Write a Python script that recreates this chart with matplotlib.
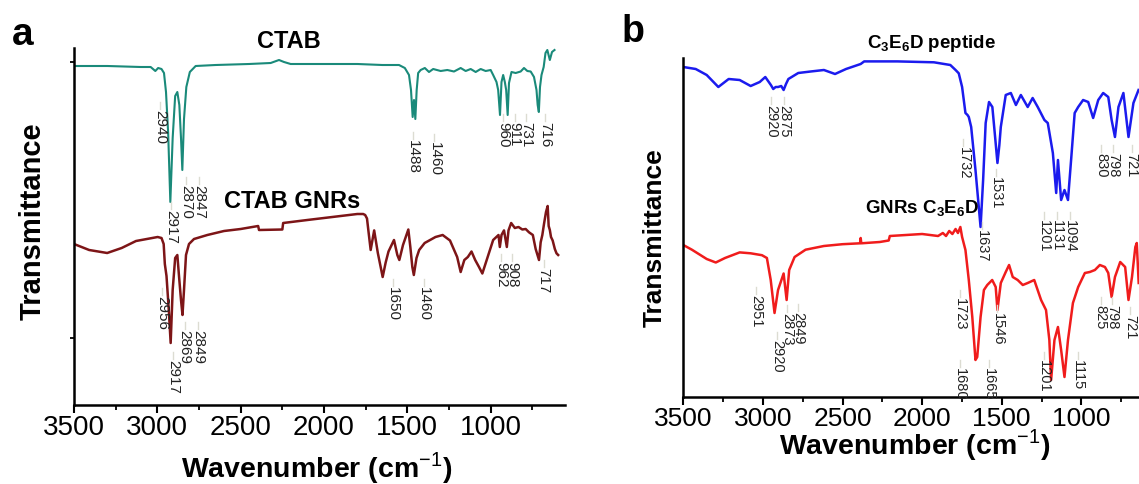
import matplotlib
matplotlib.use('Agg')
import matplotlib.pyplot as plt
from matplotlib.ticker import MultipleLocator

plt.rcParams['font.family'] = ['Liberation Sans', 'DejaVu Sans']
plt.rcParams['mathtext.fontset'] = 'custom'
plt.rcParams['mathtext.rm'] = 'Liberation Sans'
plt.rcParams['mathtext.bf'] = 'Liberation Sans:bold'

# ---------------- data (wavenumber in cm-1, transmittance in arbitrary units) ----------------
# Panel a: CTAB
ctab_wn = [3500, 3300, 3100, 3040, 3012, 2995, 2975, 2960, 2948, 2935, 2922, 2908, 2893, 2880,
           2868, 2858, 2850, 2840, 2826, 2805, 2770, 2650, 2450, 2320, 2270, 2240, 2200, 2000,
           1800, 1650, 1550, 1515, 1490, 1478, 1468, 1460, 1452, 1444, 1435, 1420, 1395, 1370,
           1345, 1300, 1260, 1220, 1180, 1150, 1120, 1090, 1060, 1030, 1000, 985, 965, 955, 944,
           935, 925, 915, 907, 898, 890, 875, 850, 820, 800, 780, 760, 740, 725, 718, 711, 704,
           695, 682, 671, 660, 645, 632, 617]
ctab_t = [384, 384, 383, 383, 379, 382, 381, 377, 358, 317, 248, 312, 354, 358,
          345, 312, 280, 331, 363, 378, 384, 385, 386, 387, 390, 388, 386, 386,
          386, 385, 385, 382, 375, 360, 333, 350, 331, 360, 377, 380, 382, 378,
          381, 379, 380, 378.5, 382, 379, 381, 378, 381, 379, 380, 375, 368, 360, 335,
          368, 375, 368, 360, 335, 367, 378, 377, 378.5, 382, 379, 378.5, 373, 360, 345, 338, 363,
          375, 383, 397, 400, 390, 398, 400]

# Panel a: CTAB GNRs
ctabgnr_wn = [3500, 3409, 3301, 3214, 3128, 3063, 2998, 2975, 2962, 2955, 2945, 2932, 2920, 2908,
              2893, 2880, 2870, 2858, 2849, 2840, 2828, 2810, 2780, 2700, 2600, 2500, 2395, 2390,
              2250, 2245, 2100, 2000, 1900, 1800, 1765, 1753, 1742, 1732, 1720, 1699, 1677, 1660,
              1648, 1630, 1613, 1580, 1560, 1548, 1526, 1494, 1482, 1470, 1461, 1445, 1429, 1396,
              1331, 1288, 1244, 1201, 1180, 1158, 1137, 1115, 1093, 1070, 1050, 1018, 985, 953,
              945, 935, 920, 903, 893, 877, 855, 833, 810, 790, 770, 747, 730, 710, 700, 690,
              680, 668, 658, 652, 645, 638, 628, 615, 605, 595]
ctabgnr_t = [206, 200, 197, 202, 209, 211, 213, 212, 206, 186, 174, 142, 107, 160,
             192, 195, 174, 150, 135, 160, 195, 206, 211, 215, 219, 221, 224, 220,
             220.5, 227, 230, 232, 234, 236, 236, 235, 231.5, 217, 200, 219.6, 197, 183,
             173, 187.5, 198.5, 210, 195, 190, 205, 220.5, 203, 183, 175, 192, 200, 207,
             213, 215, 209.5, 193, 178, 190, 193, 198.5, 190, 183, 176.5, 193, 210, 215,
             203, 215, 219.6, 203, 219.6, 227, 222, 223, 220.5, 221, 217.7, 215, 201, 190, 207.7, 215,
             226, 238, 244, 224, 220, 213, 209.5, 201, 196.7, 195]

# Panel b: C3E6D peptide
pep_wn = [3500, 3422, 3353, 3280, 3215, 3146, 3077, 3020, 2985, 2950, 2935, 2920, 2905, 2885,
          2870, 2855, 2840, 2778, 2700, 2617, 2547, 2478, 2386, 2364, 2156, 1926, 1823, 1790,
          1770, 1749, 1728, 1715, 1707, 1692, 1665, 1633, 1617, 1601, 1580, 1559, 1540, 1527,
          1515, 1506, 1475, 1443, 1411, 1380, 1337, 1306, 1274, 1232, 1211, 1179, 1158, 1147,
          1127, 1106, 1084, 1063, 1042, 1020, 989, 957, 926, 894, 863, 831, 810, 789, 767, 736,
          704, 673, 641]
pep_t = [383, 381, 375, 363, 371, 370, 364, 368, 373, 365, 361, 363, 363, 364,
         360, 366, 371, 377, 378.5, 380, 376, 381, 386, 388.6, 388.6, 387.7, 385, 380,
         376.7, 363, 337, 335, 333, 323, 280, 223, 270, 327, 348, 343, 310, 287,
         305, 323, 355, 357, 345, 355, 343, 352, 343, 330, 327, 297, 257, 290,
         250, 260, 250, 293, 337, 343, 350, 348, 332, 350, 357, 353, 330, 313, 343, 357,
         313, 347, 360]

# Panel b: GNRs C3E6D
gnrpep_wn = [3500, 3446, 3353, 3296, 3238, 3146, 3077, 3006, 2975, 2951, 2927, 2905, 2870, 2851,
             2835, 2801, 2732, 2617, 2500, 2390, 2386, 2382, 2266, 2210, 2203, 2000, 1900, 1870,
             1850, 1830, 1810, 1790, 1775, 1760, 1749, 1728, 1707, 1685, 1665, 1654, 1633, 1612,
             1591, 1560, 1538, 1527, 1506, 1475, 1454, 1431, 1400, 1368, 1337, 1296, 1253, 1222,
             1201, 1190, 1169, 1147, 1127, 1106, 1084, 1053, 1020, 978, 947, 915, 884, 852, 831,
             810, 789, 756, 725, 704, 682, 661, 652, 640]
gnrpep_t = [205, 200.3, 191, 187.5, 192, 197.6, 196.7, 194.8, 192, 170, 137, 160, 176.5, 150,
            180, 193, 200.3, 204, 205.8, 206.7, 212, 206.7, 208, 209.5, 214, 216, 214, 217,
            214, 219, 216, 221, 217, 223, 213, 200, 170, 133, 90, 93, 133, 160,
            165, 170, 163, 140, 167, 178, 185, 173, 170, 165, 167, 170, 150, 140,
            110, 70, 110, 123, 100, 73, 110, 147, 163, 177, 178, 180, 185, 183, 177,
            153, 173, 188, 183, 150, 173, 203, 207, 167]

# Peak labels: (text, wavenumber position, transmittance at label top)
ctab_peaks = [("2940", 2984, 340), ("2917", 2918, 240), ("2870", 2828, 265), ("2847", 2750, 265),
              ("1488", 1468, 310), ("1460", 1337, 308), ("960", 924, 328), ("911", 857, 328),
              ("731", 789, 328), ("716", 671, 328)]
ctabgnr_peaks = [("2956", 2972, 154), ("2917", 2904, 90), ("2869", 2836, 120), ("2849", 2754, 120),
                 ("1650", 1588, 163), ("1460", 1402, 163), ("962", 938, 188), ("908", 872, 188),
                 ("717", 682, 182)]
pep_peaks = [("2920", 2949, 345), ("2875", 2867, 345), ("1732", 1741, 303), ("1637", 1622, 220),
             ("1531", 1538, 273), ("1201", 1234, 230), ("1131", 1152, 230), ("1094", 1072, 230),
             ("830", 876, 297), ("798", 800, 297), ("721", 684, 297)]
gnrpep_peaks = [("2951", 3044, 155), ("2920", 2911, 110), ("2873", 2848, 137), ("2849", 2778, 138),
                ("1723", 1760, 152), ("1546", 1527, 137), ("1680", 1760, 82), ("1665", 1582, 82),
                ("1201", 1234, 90), ("1115", 1019, 90), ("825", 878, 145), ("798", 806, 145),
                ("721", 696, 135)]

xticks = [3500, 3000, 2500, 2000, 1500, 1000]

# ---------------- figure ----------------
W, H = 1139, 484
fig = plt.figure(figsize=(W / 100, H / 100), dpi=100)


def fpos(x, y):
    return x / W, 1 - y / H


axa = fig.add_axes([74 / W, (H - 405) / H, 491 / W, (405 - 48.3) / H])
axb = fig.add_axes([683.3 / W, (H - 396.7) / H, (W - 683.3) / W, (396.7 - 58.3) / H])

axa.set_xlim(3500, 554)
axa.set_ylim(45, 401.7)
axb.set_xlim(3500, 638)
axb.set_ylim(53.3, 391.7)

for ax, fs in ((axa, 20), (axb, 19)):
    for s in ('top', 'right'):
        ax.spines[s].set_visible(False)
    for s in ('left', 'bottom'):
        ax.spines[s].set_linewidth(1.8)
    ax.set_xticks(xticks)
    ax.set_xticklabels([str(t) for t in xticks], fontsize=fs)
    ax.xaxis.set_minor_locator(MultipleLocator(250))
    ax.tick_params(axis='x', which='major', direction='out', length=6, width=1.5, pad=1.5)
    ax.tick_params(axis='x', which='minor', direction='out', length=3.5, width=1.3)
    ax.patch.set_alpha(0)

axa.set_yticks([112, 388])
axa.set_yticklabels([])
axa.tick_params(axis='y', direction='out', length=3, width=1.3)
axb.set_yticks([])

axa.plot(ctab_wn, ctab_t, color='#1a8a7a', lw=1.5)
axa.plot(ctabgnr_wn, ctabgnr_t, color='#7d1517', lw=1.8)
axb.plot(pep_wn, pep_t, color='#1b1bee', lw=1.8)
axb.plot(gnrpep_wn, gnrpep_t, color='#f01c1c', lw=1.8)


def peak_labels(ax, peaks, fs):
    for txt, wn, top in peaks:
        ax.plot([wn, wn], [top + 1.5, top + 8], color='#dcdcd2', lw=1.0)
        ax.text(wn, top, txt, rotation=-90, ha='center', va='top', fontsize=fs, color='#222222')


peak_labels(axa, ctab_peaks, 11)
peak_labels(axa, ctabgnr_peaks, 11)
peak_labels(axb, pep_peaks, 10.5)
peak_labels(axb, gnrpep_peaks, 10.5)

# texts
fig.text(*fpos(22.5, 35), 'a', fontsize=28, fontweight='bold', ha='center', va='center')
fig.text(*fpos(633, 32.5), 'b', fontsize=27, fontweight='bold', ha='center', va='center')
fig.text(*fpos(289, 41), 'CTAB', fontsize=17, fontweight='bold', ha='center', va='center')
fig.text(*fpos(292, 202), 'CTAB GNRs', fontsize=17, fontweight='bold', ha='center', va='center')
fig.text(*fpos(931.5, 43), r'C$_{\mathbf{3}}$E$_{\mathbf{6}}$D peptide', fontsize=13.5,
         fontweight='bold', ha='center', va='center')
fig.text(*fpos(922.5, 209), r'GNRs C$_{\mathbf{3}}$E$_{\mathbf{6}}$D', fontsize=13.5,
         fontweight='bold', ha='center', va='center')
fig.text(*fpos(32.3, 221.5), 'Transmittance', fontsize=21, fontweight='bold', rotation=90,
         ha='center', va='center')
fig.text(*fpos(654.7, 238), 'Transmittance', fontsize=19, fontweight='bold', rotation=90,
         ha='center', va='center')
fig.text(*fpos(317, 468), r'Wavenumber (cm$^{-1}$)', fontsize=20.5, fontweight='bold',
         ha='center', va='center')
fig.text(*fpos(915, 445), r'Wavenumber (cm$^{-1}$)', fontsize=20.5, fontweight='bold',
         ha='center', va='center')

fig.savefig('out.png', dpi=100)
